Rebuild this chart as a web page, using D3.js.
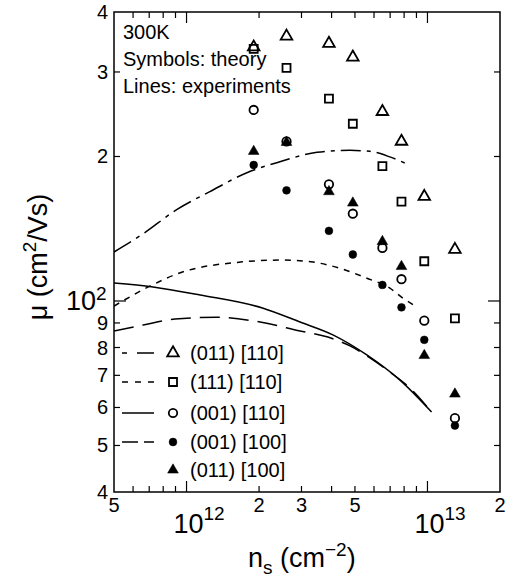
<!DOCTYPE html>
<html>
<head>
<meta charset="utf-8">
<script src="https://cdn.jsdelivr.net/npm/d3@7"></script>
<style>
  body { margin: 0; background: #fff; }
  text { font-family: "Liberation Sans", Arial, sans-serif; fill: #000; }
</style>
</head>
<body>
<div id="chart"></div>
<script>
// theory points (symbols) - sheet density columns
const ns = [1.9e12, 2.6e12, 3.9e12, 4.9e12, 6.5e12, 7.8e12, 9.7e12, 1.3e13]
const mu011_110 = [338, 356, 344, 322, 248, 215, 165, 128]
const mu111_110 = [335, 306, 264, 234, 191, 161, 121, 92]
const mu001_110 = [250, 215, 175, 152, 129, 111, 91, 57]
const mu001_100 = [192, 170, 140, 125, 108, 97, 83, 55]
const mu011_100 = [205, 214, 169, 160, 133, 118, 77, 64]

// experiments (lines) as [ns, mu]
const exp011_110 = [[5e11,126.5],[6.6e11,138],[9.1e11,155],[1.25e12,169],[1.78e12,185],[2.44e12,195],[3.48e12,204],[4.77e12,206],[5.77e12,205],[6.98e12,199.6],[8.22e12,193]]
const exp111_110 = [[5e11,97.6],[7.05e11,107.4],[9.1e11,113.8],[1.67e12,120.5],[2.51e12,121.7],[3.35e12,120.5],[4.33e12,117],[5.56e12,111.7],[6.98e12,106.4],[7.9e12,101.4],[9.04e12,97.2]]
const exp001_110 = [[5e11,109],[7.26e11,107],[1.14e12,102.9],[2.08e12,96.6],[2.96e12,90.4],[4.05e12,85],[5.6e12,77.2],[7.69e12,68.4],[1.04e13,58.7]]
const exp001_100 = [[5e11,86.6],[6.6e11,89.1],[8.96e11,91.7],[1.34e12,92.5],[2.02e12,90.4],[2.96e12,86.6],[3.86e12,84.1],[4.77e12,80.6],[5.77e12,76.1],[6.98e12,71.1],[8.45e12,65.9],[1.04e13,58.7]]

const legendLabels = ["(011) [110]", "(111) [110]", "(001) [110]", "(001) [100]", "(011) [100]"]
const xMinorTicks = [6e11,7e11,8e11,9e11,2e12,3e12,4e12,5e12,6e12,7e12,8e12,9e12]
const xMajorTicks = [1e12, 1e13]
const xSmallLabels = [[5e11,"5"],[2e12,"2"],[3e12,"3"],[5e12,"5"],[2e13,"2"]]
const xPowLabels = [[1e12,"12"],[1e13,"13"]]
const yMinorTicks = [50,60,70,80,90,200,300]
const yMajorTicks = [100]
const ySmallLabels = [[40,"4"],[50,"5"],[60,"6"],[70,"7"],[80,"8"],[90,"9"],[200,"2"],[300,"3"],[400,"4"]]

const width = 520, height = 578
const pL = 114, pR = 500, pT = 12, pB = 492

const svg = d3.select("#chart").append("svg")
    .attr("width", width)
    .attr("height", height)

const x = d3.scaleLog().domain([5e11, 2e13]).range([pL, pR])
const y = d3.scaleLog().domain([40, 400]).range([pB, pT])

svg.append("clipPath").attr("id", "clip")
  .append("rect").attr("x", pL).attr("y", pT).attr("width", pR-pL).attr("height", pB-pT)

// ticks, pointing inward on all four sides
function tickLines(sel, vals, len, side){
    const horiz = side=="b" || side=="t"
    sel.selectAll(null).data(vals).join("line")
      .attr("x1", d => horiz ? x(d) : (side=="l" ? pL : pR))
      .attr("x2", d => horiz ? x(d) : (side=="l" ? pL+len : pR-len))
      .attr("y1", d => !horiz ? y(d) : (side=="b" ? pB : pT))
      .attr("y2", d => !horiz ? y(d) : (side=="b" ? pB-len : pT+len))
      .attr("stroke", "#000").attr("stroke-width", 1.2)
}
const ticks = svg.append("g")
tickLines(ticks, xMinorTicks, 6, "b")
tickLines(ticks, xMajorTicks, 11, "b")
tickLines(ticks, xMinorTicks, 6, "t")
tickLines(ticks, xMajorTicks, 11, "t")
tickLines(ticks, yMinorTicks, 6, "l")
tickLines(ticks, yMajorTicks, 12, "l")
tickLines(ticks, yMinorTicks, 6, "r")
tickLines(ticks, yMajorTicks, 12, "r")

svg.append("rect")
    .attr("x", pL).attr("y", pT)
    .attr("width", pR-pL).attr("height", pB-pT)
    .attr("fill", "none").attr("stroke", "#000").attr("stroke-width", 1.5)

// tick labels
svg.selectAll(".xl").data(xSmallLabels).join("text")
    .attr("x", d => x(d[0])).attr("y", 512)
    .attr("text-anchor", "middle").style("font-size", "20px")
    .text(d => d[1])

xPowLabels.forEach(d => {
    svg.append("text").attr("x", x(d[0])+2).attr("y", 533)
      .attr("text-anchor", "middle").style("font-size", "27px").text("10")
    svg.append("text").attr("x", x(d[0])+17).attr("y", 520)
      .style("font-size", "19px").text(d[1])
})

svg.selectAll(".yl").data(ySmallLabels).join("text")
    .attr("x", 108).attr("y", d => y(d[0]))
    .attr("dy", "0.35em")
    .attr("text-anchor", "end").style("font-size", "20px")
    .text(d => d[1])

svg.append("text").attr("x", 96).attr("y", 310)
    .attr("text-anchor", "end").style("font-size", "27px").text("10")
svg.append("text").attr("x", 96).attr("y", 300)
    .style("font-size", "19px").text("2")

// axis titles
const xt = svg.append("text").attr("x", 248).attr("y", 567).style("font-size", "27px")
xt.append("tspan").text("n")
xt.append("tspan").attr("dy", 7).style("font-size", "19px").text("s")
xt.append("tspan").attr("dy", -7).text(" (cm")
xt.append("tspan").attr("dy", -11).style("font-size", "19px").text("\u22122")
xt.append("tspan").attr("dy", 11).text(")")

const yt = svg.append("text")
    .attr("transform", "translate(47,257) rotate(-90)")
    .attr("text-anchor", "middle").style("font-size", "27px")
yt.append("tspan").text("\u03bc (cm")
yt.append("tspan").attr("dy", -11).style("font-size", "19px").text("2")
yt.append("tspan").attr("dy", 11).text("/Vs)")

// annotation
const notes = ["300K", "Symbols: theory", "Lines: experiments"]
svg.selectAll(".note").data(notes).join("text")
    .attr("x", 123).attr("y", (d,i) => 39 + i*27)
    .style("font-size", "20px")
    .text(d => d)

// experiment lines
const line = d3.line().x(d => x(d[0])).y(d => y(d[1])).curve(d3.curveMonotoneX)
const dashes = ["20,6,4,6", "6,6", null, "20,9"]
const legendDashes = ["5,10,17", "6,7", null, "16,6,10"]
const lines = svg.append("g").attr("clip-path", "url(#clip)")
;[exp011_110, exp111_110, exp001_110, exp001_100].forEach((data, i) => {
    lines.append("path")
      .attr("d", line(data))
      .attr("fill", "none")
      .attr("stroke", "#000")
      .attr("stroke-width", 1.5)
      .attr("stroke-dasharray", dashes[i])
})

// theory symbols
const symbols = [
    {vals: mu111_110, type: d3.symbolSquare, size: 64, fill: "none"},
    {vals: mu011_110, type: d3.symbolTriangle, size: 58, fill: "none"},
    {vals: mu001_110, type: d3.symbolCircle, size: 56, fill: "none"},
    {vals: mu001_100, type: d3.symbolCircle, size: 48, fill: "#000"},
    {vals: mu011_100, type: d3.symbolTriangle, size: 50, fill: "#000"}
]
const order = [1, 0, 2, 3, 4] // legend order -> symbols index
symbols.forEach(s => {
    svg.append("g").selectAll("path").data(s.vals).join("path")
      .attr("transform", (d,i) => `translate(${x(ns[i])},${y(d)})`)
      .attr("d", d3.symbol().type(s.type).size(s.size))
      .attr("fill", s.fill)
      .attr("stroke", "#000")
      .attr("stroke-width", s.fill=="none" ? 1.8 : 0.5)
})

// legend
const legendY = [353, 382, 413, 442, 470]
legendLabels.forEach((lab, i) => {
    const g = svg.append("g").attr("transform", `translate(0,${legendY[i]})`)
    if (i < 4) {
        g.append("line").attr("x1", 122).attr("x2", 154).attr("y1", 0).attr("y2", 0)
          .attr("stroke", "#000").attr("stroke-width", 1.5)
          .attr("stroke-dasharray", legendDashes[i])
    }
    const s = symbols[order[i]]
    g.append("path").attr("transform", "translate(173,0)")
      .attr("d", d3.symbol().type(s.type).size(s.size))
      .attr("fill", s.fill).attr("stroke", "#000")
      .attr("stroke-width", s.fill=="none" ? 1.8 : 0.5)
    g.append("text").attr("x", 190).attr("dy", "0.35em")
      .style("font-size", "20px").text(lab)
})
</script>
</body>
</html>
